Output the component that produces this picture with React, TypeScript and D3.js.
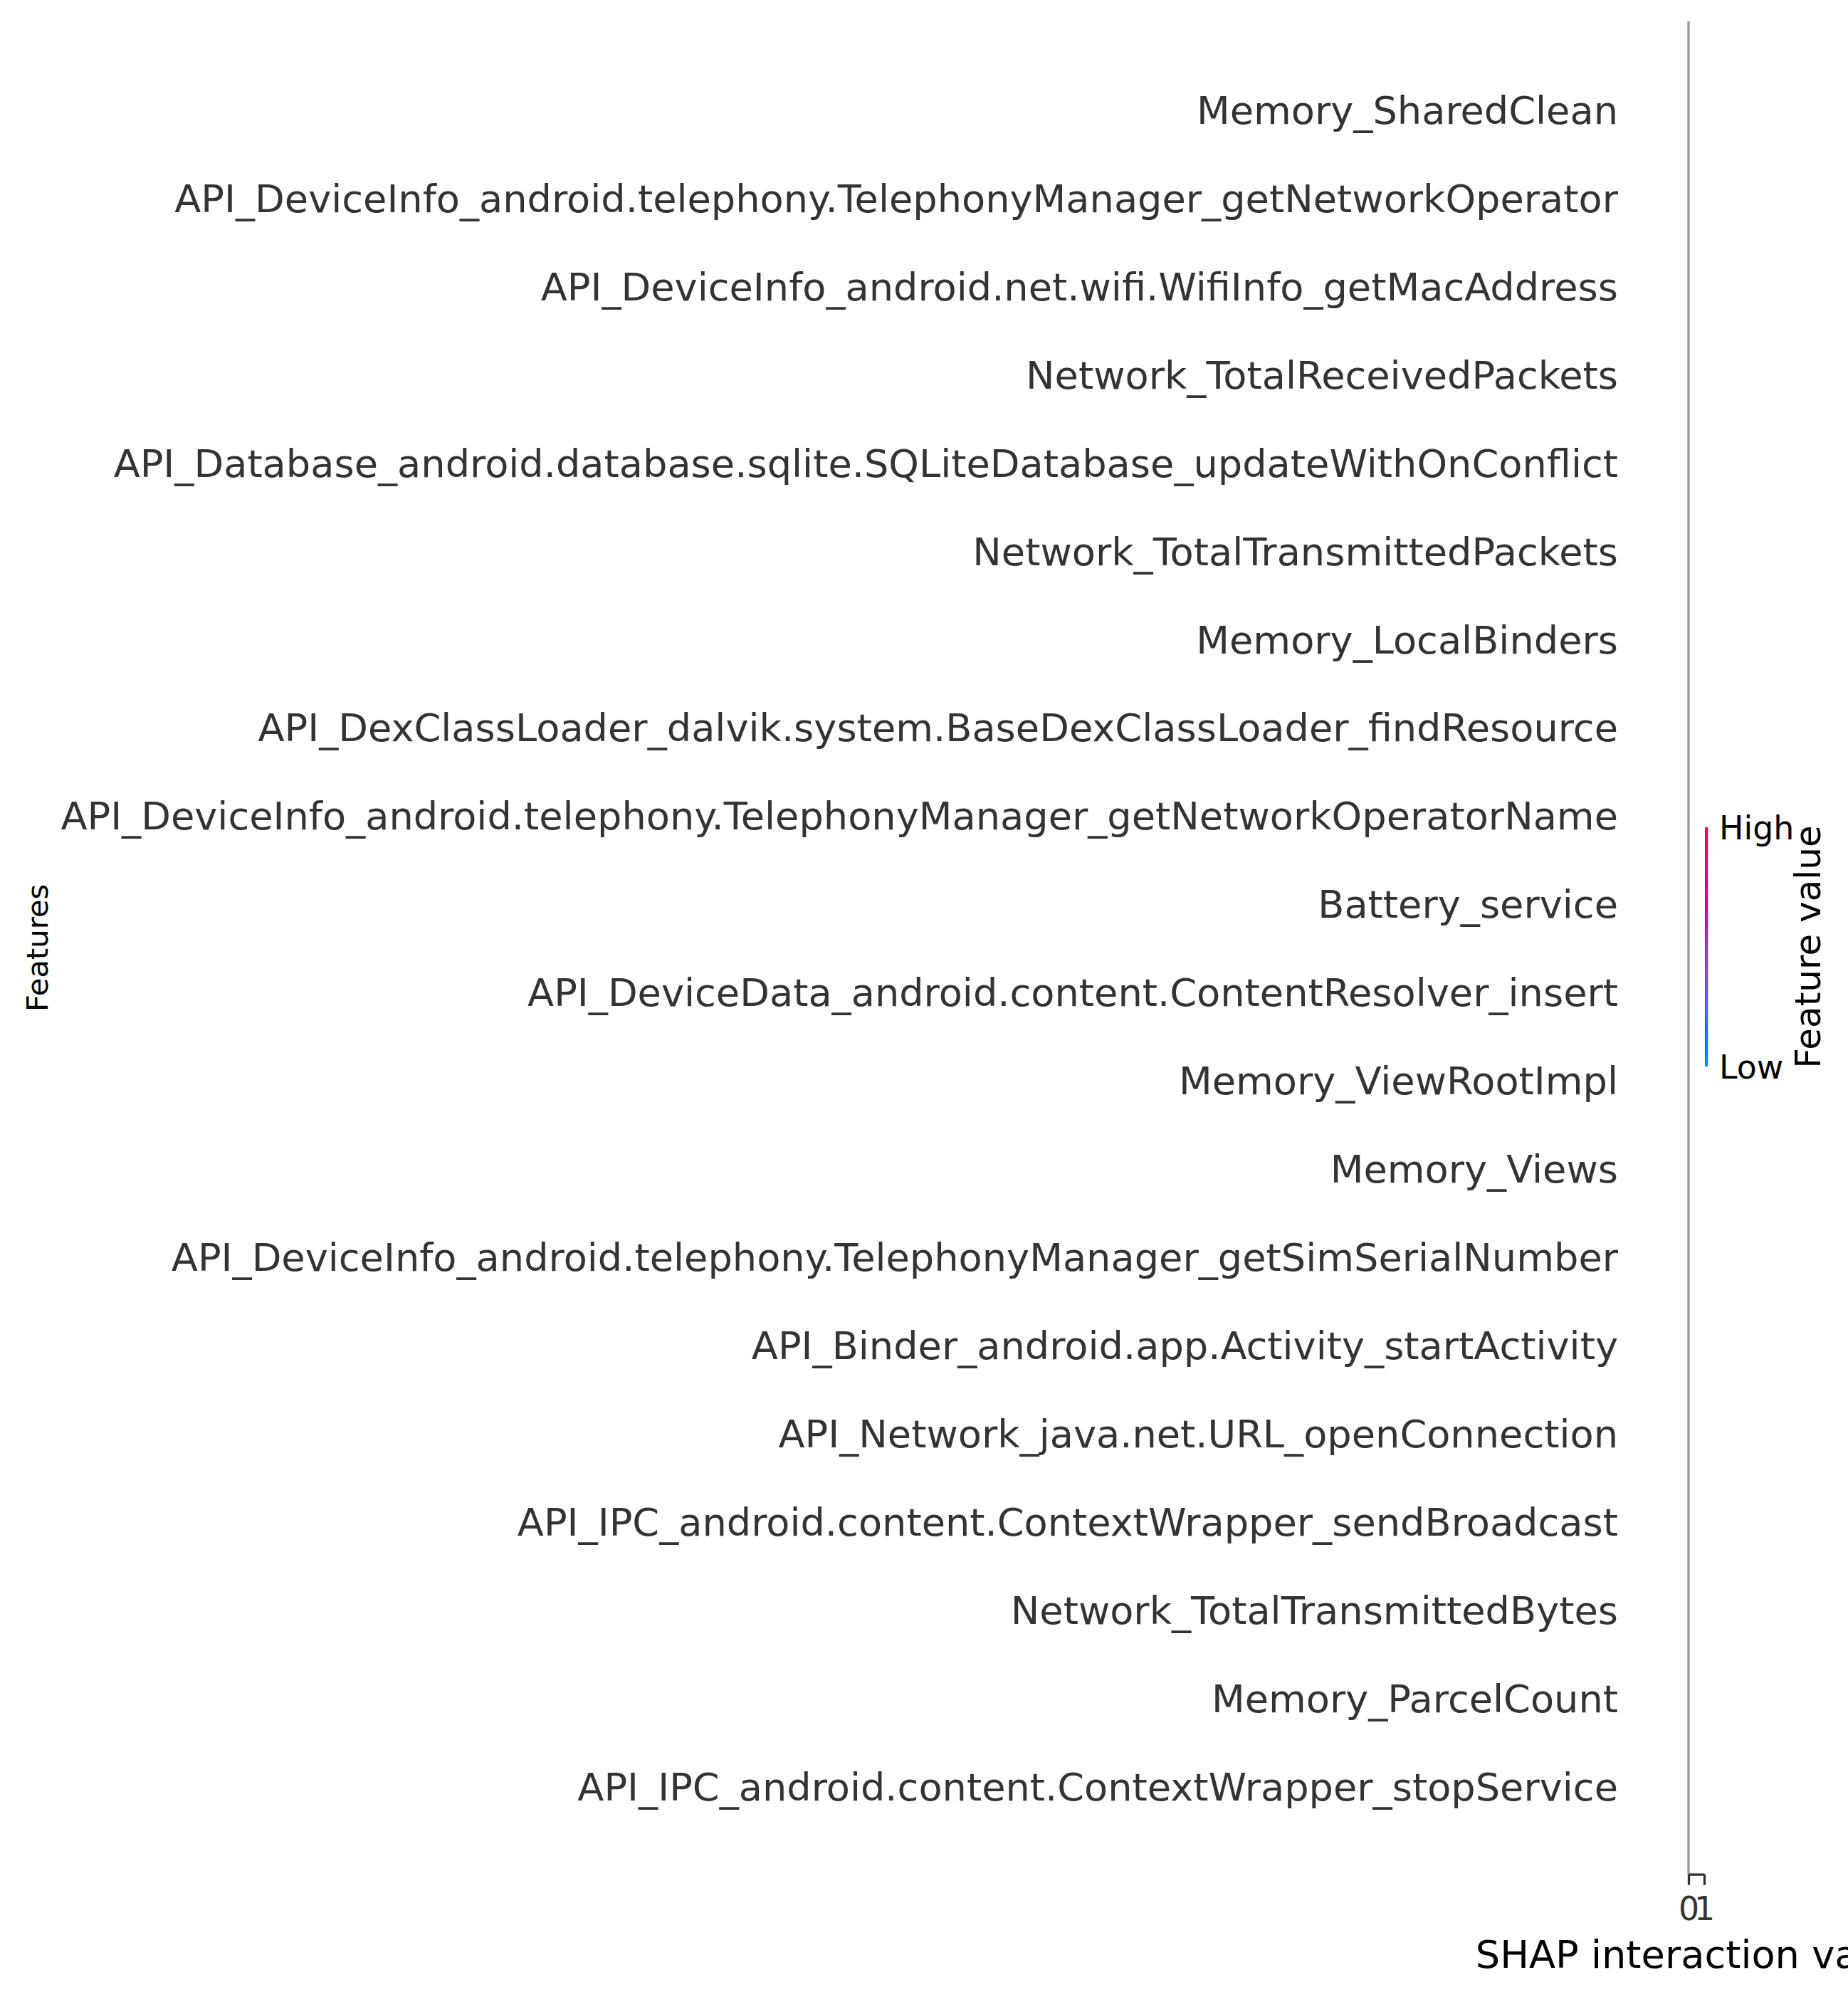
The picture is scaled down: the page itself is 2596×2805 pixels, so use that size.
import React, { useRef, useEffect } from "react";
import * as d3 from "d3";

// feature names, top to bottom as in the plot
const features = [
    "Memory_SharedClean",
    "API_DeviceInfo_android.telephony.TelephonyManager_getNetworkOperator",
    "API_DeviceInfo_android.net.wifi.WifiInfo_getMacAddress",
    "Network_TotalReceivedPackets",
    "API_Database_android.database.sqlite.SQLiteDatabase_updateWithOnConflict",
    "Network_TotalTransmittedPackets",
    "Memory_LocalBinders",
    "API_DexClassLoader_dalvik.system.BaseDexClassLoader_findResource",
    "API_DeviceInfo_android.telephony.TelephonyManager_getNetworkOperatorName",
    "Battery_service",
    "API_DeviceData_android.content.ContentResolver_insert",
    "Memory_ViewRootImpl",
    "Memory_Views",
    "API_DeviceInfo_android.telephony.TelephonyManager_getSimSerialNumber",
    "API_Binder_android.app.Activity_startActivity",
    "API_Network_java.net.URL_openConnection",
    "API_IPC_android.content.ContextWrapper_sendBroadcast",
    "Network_TotalTransmittedBytes",
    "Memory_ParcelCount",
    "API_IPC_android.content.ContextWrapper_stopService",
];

const xDomain = [0, 1];
const xTicks = [0, 1];
const xLabel = "SHAP interaction value";
const yLabel = "Features";
const colorbarLabel = "Feature value";
const colorbarTicks = ["High", "Low"];

// shap red_blue colormap, top (high) to bottom (low)
const colorStops = [
    "#ff0052", "#f20070", "#d8008e", "#bc08a4", "#a028b4",
    "#8844c6", "#7052d6", "#4a64e6", "#0a78f2", "#008bfb",
];

const FONT = "DejaVu Sans";

const App = () => {

    const svgRef = useRef(null);

    const width = 2596;
    const height = 2805;

    const plotTop = 30;
    const plotBottom = 2632.6;
    const plotLeft = 2372;
    const plotRight = 2394;

    useEffect(() => {

        const svg = d3.select(svgRef.current);
        svg.selectAll("*").remove();

        const n = features.length;

        const yScale = d3.scaleLinear()
            .domain([-1, n])
            .range([plotBottom, plotTop]);

        const xScale = d3.scaleLinear()
            .domain(xDomain)
            .range([plotLeft, plotRight]);

        // zero line
        svg.append("line")
            .attr("x1", xScale(0))
            .attr("x2", xScale(0))
            .attr("y1", plotTop)
            .attr("y2", plotBottom)
            .attr("stroke", "#999999")
            .attr("stroke-width", 3.3);

        // feature names
        svg.append("g")
            .selectAll("text")
            .data(features)
            .join("text")
            .attr("x", 2273)
            .attr("y", (d, i) => yScale(n - 1 - i) + 20)
            .attr("text-anchor", "end")
            .attr("font-family", FONT)
            .attr("font-size", 54.2)
            .attr("fill", "#333333")
            .text((d) => d);

        // x axis
        const xAxis = d3.axisBottom(xScale)
            .tickValues(xTicks)
            .tickFormat(d3.format("d"))
            .tickSize(15)
            .tickSizeOuter(0)
            .tickPadding(17);

        const gx = svg.append("g")
            .attr("transform", `translate(0, ${plotBottom})`)
            .call(xAxis);
        gx.select(".domain")
            .attr("stroke", "#333333")
            .attr("stroke-width", 3.3);
        gx.selectAll(".tick line")
            .attr("stroke", "#333333")
            .attr("stroke-width", 3.3);
        gx.selectAll(".tick text")
            .attr("font-family", FONT)
            .attr("font-size", 45.8)
            .attr("fill", "#333333");

        svg.append("text")
            .attr("x", (plotLeft + plotRight) / 2)
            .attr("y", 2764)
            .attr("text-anchor", "middle")
            .attr("font-family", FONT)
            .attr("font-size", 54.2)
            .attr("fill", "#000000")
            .text(xLabel);

        svg.append("text")
            .attr("transform", `translate(67, ${(plotTop + plotBottom) / 2}) rotate(-90)`)
            .attr("text-anchor", "middle")
            .attr("font-family", FONT)
            .attr("font-size", 41.7)
            .attr("fill", "#000000")
            .text(yLabel);

        // colorbar
        const cbTop = 1162;
        const cbBottom = 1498;
        const grad = svg.append("defs")
            .append("linearGradient")
            .attr("id", "cbGrad")
            .attr("x1", 0).attr("x2", 0)
            .attr("y1", 0).attr("y2", 1);
        grad.selectAll("stop")
            .data(colorStops)
            .join("stop")
            .attr("offset", (d, i) => i / (colorStops.length - 1))
            .attr("stop-color", (d) => d);

        svg.append("rect")
            .attr("x", 2395)
            .attr("y", cbTop)
            .attr("width", 4.3)
            .attr("height", cbBottom - cbTop)
            .attr("fill", "url(#cbGrad)");

        svg.append("g")
            .selectAll("text")
            .data(colorbarTicks)
            .join("text")
            .attr("x", 2415)
            .attr("y", (d, i) => (i === 0 ? cbTop : cbBottom) + 17)
            .attr("font-family", FONT)
            .attr("font-size", 45.8)
            .attr("fill", "#000000")
            .text((d) => d);

        svg.append("text")
            .attr("transform", `translate(2557, ${(cbTop + cbBottom) / 2}) rotate(-90)`)
            .attr("text-anchor", "middle")
            .attr("font-family", FONT)
            .attr("font-size", 50)
            .attr("fill", "#000000")
            .text(colorbarLabel);

    }, []);

    return (
        <div style={{ position: "absolute", left: 0, top: 0 }}>
            <svg ref={svgRef} width={width} height={height} style={{ display: "block", background: "#ffffff" }}>
            </svg>
        </div>
    )
};

export default App;
